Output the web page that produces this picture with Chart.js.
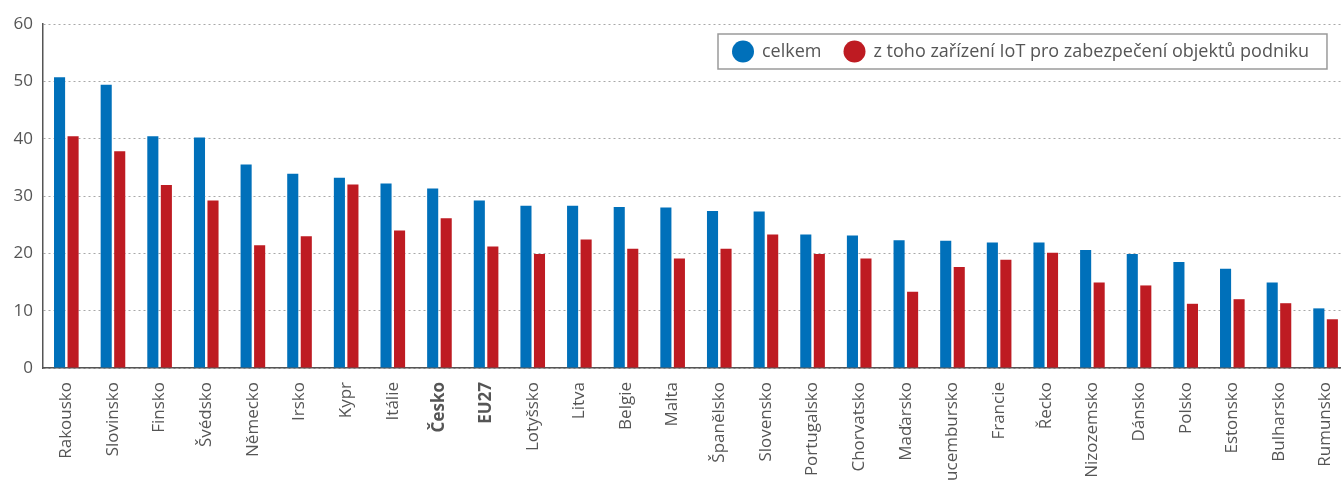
<!DOCTYPE html>
<html>
<head>
<meta charset="utf-8">
<script src="https://cdn.jsdelivr.net/npm/chart.js@4"></script>
<style>
  html, body { margin: 0; padding: 0; background: #fff; overflow: hidden; width: 1341px; height: 481px; }
  #wrap { width: 1352px; height: 481px; }
</style>
</head>
<body>
<div id="wrap"><canvas id="c" width="1352" height="481"></canvas></div>
<script>
const categories = ["Rakousko","Slovinsko","Finsko","Švédsko","Německo","Irsko","Kypr","Itálie","Česko","EU27","Lotyšsko","Litva","Belgie","Malta","Španělsko","Slovensko","Portugalsko","Chorvatsko","Maďarsko","Lucembursko","Francie","Řecko","Nizozemsko","Dánsko","Polsko","Estonsko","Bulharsko","Rumunsko"];
const celkem = [50.7,49.4,40.4,40.2,35.5,33.9,33.2,32.2,31.3,29.2,28.3,28.3,28.1,28.0,27.4,27.3,23.3,23.1,22.3,22.2,21.9,21.9,20.6,19.9,18.5,17.3,14.9,10.4];
const zabezpeceni = [40.4,37.8,31.9,29.2,21.4,23.0,32.0,24.0,26.1,21.2,19.9,22.4,20.8,19.1,20.8,23.3,19.9,19.1,13.3,17.6,18.9,20.1,14.9,14.4,11.2,12.0,11.3,8.5];
const boldCategories = ["Česko","EU27"];
const seriesLabels = ["celkem","z toho zařízení IoT pro zabezpečení objektů podniku"];
const yTicks = [0,10,20,30,40,50,60];

const FONT = "'Open Sans', sans-serif";
const TEXT = "#555555";
const BLUE = "#0070ba";
const RED = "#be1b22";

const legendPlugin = {
  id: 'boxLegend',
  afterDraw(chart) {
    const ctx = chart.ctx;
    const ds = chart.data.datasets;
    ctx.save();
    ctx.font = "18px " + FONT;
    const left = 718, top = 34, h = 35, r = 11;
    const cy = top + h / 2;
    let x = left + 14;
    const items = [];
    ds.forEach((d, i) => {
      const w = ctx.measureText(d.label).width;
      items.push({ x, w, color: d.backgroundColor, label: d.label });
      x += 2 * r + 8 + w + 22;
    });
    const right = x - 22 + 18;
    ctx.fillStyle = "#fff";
    ctx.fillRect(left, top, right - left, h);
    ctx.strokeStyle = "#9a9a9a";
    ctx.lineWidth = 1.5;
    ctx.strokeRect(left, top, right - left, h);
    items.forEach(it => {
      ctx.beginPath();
      ctx.arc(it.x + r, cy, r, 0, Math.PI * 2);
      ctx.fillStyle = it.color;
      ctx.fill();
      ctx.fillStyle = TEXT;
      ctx.textBaseline = "middle";
      ctx.textAlign = "left";
      ctx.fillText(it.label, it.x + 2 * r + 8, cy);
    });
    ctx.restore();
  }
};

new Chart(document.getElementById('c'), {
  type: 'bar',
  data: {
    labels: categories,
    datasets: [
      { label: seriesLabels[0], data: celkem, backgroundColor: BLUE, categoryPercentage: 0.58, barPercentage: 0.82 },
      { label: seriesLabels[1], data: zabezpeceni, backgroundColor: RED, categoryPercentage: 0.58, barPercentage: 0.82 }
    ]
  },
  options: {
    responsive: false,
    animation: false,
    layout: { padding: { top: 24, left: 0, right: 0, bottom: 0 } },
    plugins: { legend: { display: false }, tooltip: { enabled: false } },
    scales: {
      x: {
        grid: { display: false },
        border: { display: true, color: "#555", width: 1.5 },
        ticks: {
          autoSkip: false, minRotation: 90, maxRotation: 90, padding: 6,
          color: TEXT,
          font: (c) => ({ family: FONT, size: 17, weight: boldCategories.includes(categories[c.index]) ? 'bold' : 'normal' })
        },
        afterFit(scale) { scale.height = 113; }
      },
      y: {
        min: 0, max: 60,
        afterBuildTicks(scale) { scale.ticks = yTicks.map(v => ({ value: v })); },
        grid: { color: "#a8a8a8", lineWidth: 1, drawTicks: false },
        border: { display: true, color: "#555", width: 1.5, dash: [2, 3], dashOffset: 0 },
        ticks: { padding: 10, color: TEXT, font: { family: FONT, size: 17 } },
        afterFit(scale) { scale.width = 43; }
      }
    }
  },
  plugins: [legendPlugin]
});
</script>
</body>
</html>
